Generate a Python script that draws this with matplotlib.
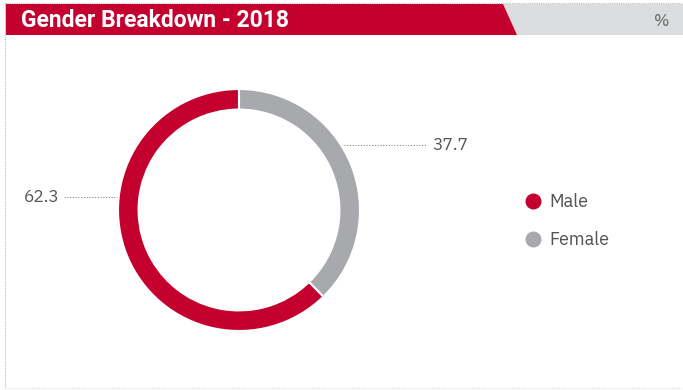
import numpy as np
import matplotlib.pyplot as plt
from matplotlib.patches import Polygon, Rectangle

labels = ["Male", "Female"]
values = [62.3, 37.7]
colors = ["#C4002F", "#A7A9AC"]
title = "Gender Breakdown - 2018"

W, H = 683, 390
fig = plt.figure(figsize=(W / 100, H / 100), dpi=100)

TITLE_FONT = ["Roboto", "DejaVu Sans"]
BODY_FONT = ["IBM Plex Sans", "DejaVu Sans"]

# background axes in pixel coords
bg = fig.add_axes([0, 0, 1, 1])
bg.set_xlim(0, W)
bg.set_ylim(H, 0)
bg.axis("off")

# dotted frame
bg.plot([5, 5], [3, 388], color="#BBBBBB", lw=0.8, ls=(0, (1, 1)))
bg.plot([5, W], [388, 388], color="#DDDDDD", lw=0.8, ls=(0, (1, 1)))
bg.plot([5, W], [3, 3], color="#BBBBBB", lw=0.8, ls=(0, (1, 1)))

# header band
bg.add_patch(Rectangle((5, 4), W - 5, 31, color="#DCDDDE", lw=0))
bg.add_patch(Polygon([(6, 4), (503, 4), (517, 35), (6, 35)], closed=True, color="#C4002F", lw=0))
bg.text(21, 20.5, title, color="white", fontsize=16.5, fontweight="bold",
        family=TITLE_FONT, va="center", ha="left")
bg.text(669, 20.5, "%", color="#666666", fontsize=12, va="center", ha="right",
        family=BODY_FONT)

# donut
cx, cy, r = 239, 210, 121
ax = fig.add_axes([(cx - r) / W, (H - cy - r) / H, 2 * r / W, 2 * r / H])
ax.pie(values, colors=colors, startangle=90, counterclock=True, radius=1,
       wedgeprops=dict(width=0.17, edgecolor="white", linewidth=1.5))
ax.set_xlim(-1, 1)
ax.set_ylim(-1, 1)
ax.axis("off")

# value labels with leader lines (pixel positions)
bg.plot([64, 118], [197, 197], color="#888888", lw=0.8, ls=(0, (1, 1.5)))
bg.text(60, 197, f"{values[0]}", color="#555555", fontsize=12.5, ha="right", va="center",
        family=BODY_FONT)
bg.plot([341, 426], [145, 145], color="#888888", lw=0.8, ls=(0, (1, 1.5)))
bg.text(432, 145, f"{values[1]}", color="#555555", fontsize=12.5, ha="left", va="center",
        family=BODY_FONT)

# legend
for i, (lab, col) in enumerate(zip(labels, colors)):
    y = 201 + i * 38
    bg.scatter([533], [y], s=110, color=col, zorder=3)
    bg.text(549, y + 1, lab, color="#555555", fontsize=13, ha="left", va="center",
            family=BODY_FONT)

fig.savefig("out.png", dpi=100)
